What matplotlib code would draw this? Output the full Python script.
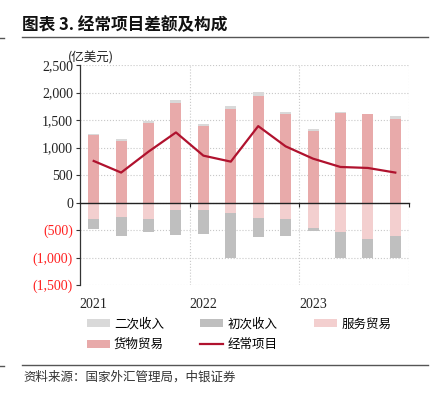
import matplotlib
matplotlib.use("Agg")
import matplotlib.pyplot as plt
import numpy as np
from matplotlib.ticker import FixedLocator, FuncFormatter
import matplotlib.transforms as mtransforms
from matplotlib.lines import Line2D

plt.rcParams['font.family'] = ['Noto Sans CJK SC', 'DejaVu Sans']

quarters = ['2021Q1', '2021Q2', '2021Q3', '2021Q4', '2022Q1', '2022Q2',
            '2022Q3', '2022Q4', '2023Q1', '2023Q2', '2023Q3', '2023Q4']
year_labels = ['2021', '2022', '2023']
goods = [1226, 1111, 1437, 1812, 1383, 1697, 1945, 1601, 1293, 1619, 1601, 1522]
secondary = [20, 48, 37, 60, 42, 55, 60, 36, 42, 30, 12, 42]
services = [-308, -266, -308, -145, -145, -187, -290, -308, -471, -544, -664, -616]
primary = [-181, -344, -236, -447, -429, -828, -338, -302, -54, -471, -339, -399]
current = [755, 544, 925, 1274, 852, 743, 1389, 1021, 797, 646, 628, 544]
yticks = [-1500, -1000, -500, 0, 500, 1000, 1500, 2000, 2500]

c_goods = '#E8AAAA'
c_serv = '#F3CFCF'
c_prim = '#BFBFBF'
c_sec = '#D9D9D9'
c_line = '#B0122E'

W, H = 434, 397
fig = plt.figure(figsize=(W / 100, H / 100), dpi=100)
ax = fig.add_axes([80 / W, 1 - 285 / H, 329 / W, 220 / H])

x = np.arange(len(quarters))
bw = 0.4
goods_a = np.array(goods)
serv_a = np.array(services)
ax.bar(x, goods, bw, color=c_goods, zorder=2, label='货物贸易')
ax.bar(x, secondary, bw, bottom=goods_a, color=c_sec, zorder=2, label='二次收入')
ax.bar(x, services, bw, color=c_serv, zorder=2, label='服务贸易')
ax.bar(x, primary, bw, bottom=serv_a, color=c_prim, zorder=2, label='初次收入')
ax.plot(x, current, color=c_line, lw=1.6, zorder=3, label='经常项目')

ax.set_xlim(-0.5, 11.5)
ax.set_ylim(-1500, 2500)
ax.yaxis.set_major_locator(FixedLocator(yticks))

def fmt(v, pos):
    v = int(round(v))
    if v < 0:
        return '({:,})'.format(-v)
    return '{:,}'.format(v)

ax.yaxis.set_major_formatter(FuncFormatter(fmt))
ax.tick_params(axis='y', length=3, width=0.8, pad=2, direction='out', colors='#333333')
for lab, v in zip(ax.get_yticklabels(), yticks):
    lab.set_fontfamily('Liberation Serif')
    lab.set_fontsize(10)
    lab.set_color('#FF2020' if v < 0 else '#222222')

# horizontal grid
ax.grid(axis='y', linestyle=':', color='#C8C8C8', lw=0.8, zorder=0)
# vertical year separators
for xv in [3.5, 7.5, 11.5]:
    ax.axvline(xv, linestyle=':', color='#C8C8C8', lw=0.8, zorder=0)

for s in ['top', 'right']:
    ax.spines[s].set_visible(False)
ax.spines['left'].set_color('#333333')
ax.spines['left'].set_linewidth(0.9)
ax.spines['bottom'].set_position(('data', 0))
ax.spines['bottom'].set_color('#222222')
ax.spines['bottom'].set_linewidth(1.0)
ax.spines['bottom'].set_zorder(4)
ax.set_xticks([3.5, 7.5, 11.5])
ax.set_xticklabels([])
ax.tick_params(axis='x', length=3, width=0.8, direction='out', colors='#222222')

trans = mtransforms.blended_transform_factory(ax.transData, ax.transAxes)
for i, yl in enumerate(year_labels):
    ax.text(i * 4, -0.09, yl, transform=trans, ha='center', va='center',
            fontfamily='Liberation Serif', fontsize=10, color='#222222')

# unit label
fig.text(68 / W, 1 - 58 / H, '(亿美元)', fontsize=9, ha='left', va='center', color='#222222')

# legend
h = {l: hd for hd, l in zip(*ax.get_legend_handles_labels())}
order = ['二次收入', '货物贸易', '初次收入', '经常项目', '服务贸易']
handles = [h[o] for o in order]
fig.legend(handles, order, ncol=3, loc='upper left',
           bbox_to_anchor=(84 / W, 1 - 315 / H), frameon=False, fontsize=9,
           handlelength=1.85, handleheight=0.6, handletextpad=0.35,
           columnspacing=2.9, labelspacing=0.6, borderpad=0.2, borderaxespad=0)

# title and rules
fig.text(22 / W, 1 - 25 / H, '图表 3. 经常项目差额及构成', fontsize=12, fontweight='bold',
         ha='left', va='center', color='#111111')
fig.add_artist(Line2D([22 / W, 428 / W], [1 - 37 / H, 1 - 37 / H], color='#555555', lw=1.0))
fig.add_artist(Line2D([0, 4 / W], [1 - 38 / H, 1 - 38 / H], color='#555555', lw=1.0))
fig.add_artist(Line2D([22 / W, 428 / W], [1 - 365 / H, 1 - 365 / H], color='#555555', lw=1.0))
fig.add_artist(Line2D([0, 4 / W], [1 - 366 / H, 1 - 366 / H], color='#555555', lw=1.0))
fig.text(23 / W, 1 - 377 / H, '资料来源：国家外汇管理局，中银证券', fontsize=9, style='italic',
         ha='left', va='center', color='#333333')

fig.savefig('out.png', dpi=100)
